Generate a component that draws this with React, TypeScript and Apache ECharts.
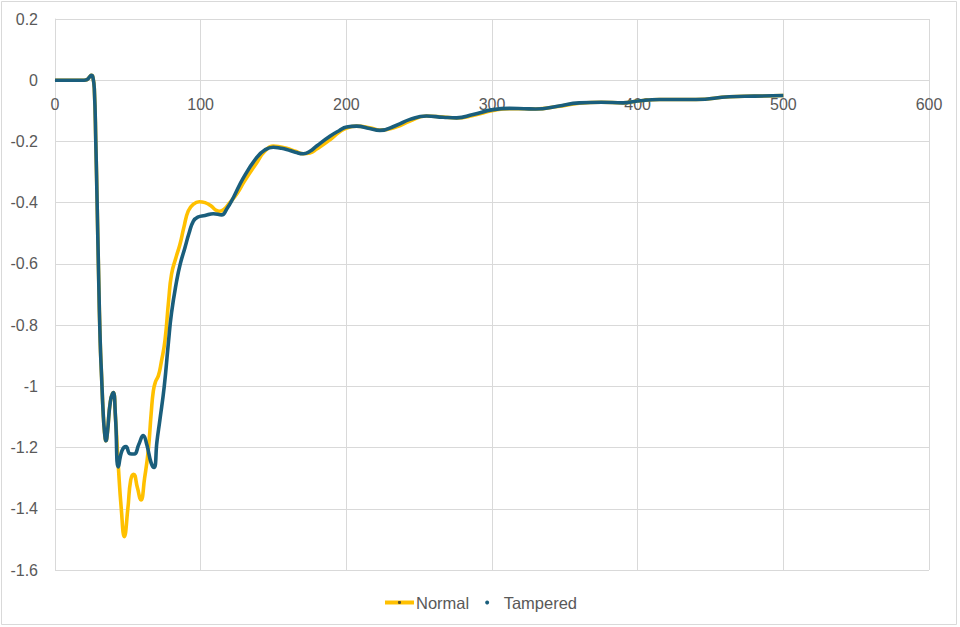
import React, { useEffect, useRef } from "react";
import * as echarts from "echarts";

const seriesNames = ["Normal", "Tampered"];
const xTicks = [0, 100, 200, 300, 400, 500, 600];
const yTicks = [-1.6, -1.4, -1.2, -1, -0.8, -0.6, -0.4, -0.2, 0, 0.2];

const normalX = [
  0, 10, 20, 22, 24, 25, 26, 27, 28, 29, 30, 31, 32, 33, 34, 35, 36, 38, 40, 41.5, 43.5,
  45.5, 47.6, 50, 52, 54, 56.5, 59, 61.5, 64, 66, 67.5, 69, 71, 73, 75.5, 78, 80, 83, 85.8, 88.5,
  91.5, 95, 99, 103, 107, 110, 113, 116, 120, 125, 130, 138.4, 144, 149.8, 155, 159, 165, 170.4, 175, 179.6,
  188.7, 195, 200.2, 207, 216, 223, 234.5, 243.7, 255, 266.5, 275.7, 287, 300.8, 312, 322, 330, 345, 360, 375, 390,
  400, 415, 440, 463, 480, 500,
];
const normalY = [
  0, 0, 0, 0.002, 0.012, 0.016, 0.01, -0.03, -0.2, -0.42, -0.65, -0.85, -0.97, -1.08, -1.15, -1.178, -1.15, -1.05, -1.02, -1.1, -1.263,
  -1.4, -1.491, -1.4, -1.305, -1.287, -1.33, -1.371, -1.3, -1.21, -1.09, -1.015, -0.985, -0.965, -0.92, -0.85, -0.72, -0.634, -0.58, -0.536, -0.48,
  -0.427, -0.405, -0.397, -0.4, -0.41, -0.423, -0.428, -0.422, -0.4, -0.37, -0.33, -0.27, -0.232, -0.215, -0.218, -0.222, -0.232, -0.24, -0.238, -0.225,
  -0.195, -0.17, -0.156, -0.15, -0.155, -0.163, -0.152, -0.133, -0.117, -0.12, -0.123, -0.115, -0.099, -0.093, -0.093, -0.094, -0.086, -0.075, -0.072, -0.074,
  -0.068, -0.063, -0.063, -0.054, -0.052, -0.05,
];

const tamperedX = [
  0, 10, 20, 22, 24, 25, 26, 27, 28, 29, 30, 31, 32, 33, 34, 35, 36, 38, 40, 41.5,
  43.5, 46, 48.7, 51.5, 54.4, 57.5, 60.6, 63, 66, 68, 70, 72, 75, 77.8, 80, 83.5, 86, 89.2, 92, 95,
  98, 103, 108.7, 114.4, 118, 122.4, 129.3, 138.4, 144, 149.8, 155, 159, 165, 170.4, 175, 179.6, 188.7, 195, 200.2, 207,
  216, 223, 234.5, 243.7, 255, 266.5, 275.7, 287, 300.8, 312, 322, 330, 345, 360, 375, 390, 400, 415, 440, 463,
  480, 500,
];
const tamperedY = [
  0, 0, 0, 0.002, 0.012, 0.016, 0.01, -0.03, -0.2, -0.42, -0.65, -0.85, -0.97, -1.08, -1.15, -1.178, -1.15, -1.05, -1.02, -1.1,
  -1.263, -1.21, -1.197, -1.22, -1.221, -1.19, -1.161, -1.19, -1.25, -1.265, -1.18, -1.11, -1.0, -0.86, -0.76, -0.656, -0.6, -0.547, -0.5, -0.46,
  -0.447, -0.442, -0.436, -0.44, -0.42, -0.384, -0.319, -0.253, -0.228, -0.219, -0.222, -0.226, -0.235, -0.24, -0.232, -0.215, -0.183, -0.165, -0.153, -0.15,
  -0.158, -0.164, -0.147, -0.128, -0.117, -0.121, -0.123, -0.112, -0.096, -0.092, -0.093, -0.094, -0.085, -0.074, -0.072, -0.074, -0.068, -0.063, -0.063, -0.054,
  -0.052, -0.05,
];

const YELLOW = "#FFC000";
const TEAL = "#1A5E7C";
const GRID = "#D9D9D9";
const TEXT = "#595959";
const FONT = "Liberation Sans, Arial, sans-serif";

export default function App() {
  const ref = useRef<HTMLDivElement>(null);
  useEffect(() => {
    if (!ref.current) return;
    const chart = echarts.init(ref.current, null, { renderer: "svg" });
    const zip = (xs: number[], ys: number[]) => xs.map((x, i) => [x, ys[i]]);
    chart.setOption({
      animation: false,
      backgroundColor: "#fff",
      textStyle: { fontFamily: FONT },
      graphic: [
        {
          type: "rect",
          silent: true,
          shape: { x: 1.5, y: 1.5, width: 955, height: 623 },
          style: { fill: "none", stroke: GRID, lineWidth: 1 },
        },
      ],
      grid: { left: 55, right: 31, top: 19, bottom: 57, containLabel: false },
      legend: {
        left: "center",
        top: 589,
        itemWidth: 29,
        itemHeight: 4,
        itemGap: 16,
        textStyle: { color: TEXT, fontSize: 16.5, fontFamily: FONT, padding: [0, 0, 0, -3] },
        data: [
          { name: seriesNames[0], itemStyle: { color: "#5a5030" }, lineStyle: { width: 4 } },
          { name: seriesNames[1], icon: "circle", itemStyle: { color: TEAL } },
        ],
      },
      xAxis: {
        type: "value",
        position: "bottom",
        min: xTicks[0],
        max: xTicks[xTicks.length - 1],
        interval: xTicks[1] - xTicks[0],
        axisLine: { show: true, onZero: false, lineStyle: { color: GRID } },
        axisTick: { show: false },
        axisLabel: { color: TEXT, fontSize: 16, fontFamily: FONT, margin: 16 },
        splitLine: { show: true, lineStyle: { color: GRID } },
      },
      yAxis: {
        type: "value",
        min: yTicks[0],
        max: yTicks[yTicks.length - 1],
        interval: 0.2,
        axisLine: { show: true, lineStyle: { color: GRID } },
        axisTick: { show: false },
        axisLabel: {
          color: TEXT,
          fontSize: 16,
          fontFamily: FONT,
          margin: 17,
          formatter: (v: number) => String(Math.round(v * 10) / 10),
        },
        splitLine: { show: true, lineStyle: { color: GRID } },
      },
      series: [
        {
          name: seriesNames[0],
          type: "line",
          data: zip(normalX, normalY),
          smooth: 0.5,
          showSymbol: false,
          symbol: "circle",
          color: YELLOW,
          lineStyle: { color: YELLOW, width: 3.6 },
          z: 2,
        },
        {
          name: seriesNames[1],
          type: "line",
          data: zip(tamperedX, tamperedY),
          smooth: 0.5,
          showSymbol: false,
          symbol: "circle",
          color: TEAL,
          lineStyle: { color: TEAL, width: 3.6 },
          z: 3,
        },
      ],
    });
    // Move the x axis (line + labels) up to the y = 0 crossing, using the library's own scale.
    const zeroY = chart.convertToPixel({ yAxisIndex: 0 }, 0) as number;
    const bottomY = chart.convertToPixel({ yAxisIndex: 0 }, yTicks[0]) as number;
    chart.setOption({ xAxis: { offset: -(bottomY - zeroY) } });
    return () => chart.dispose();
  }, []);
  return (
    <div
      ref={ref}
      style={{ position: "fixed", left: 0, top: 0, width: 960, height: 627, background: "#fff" }}
    />
  );
}
